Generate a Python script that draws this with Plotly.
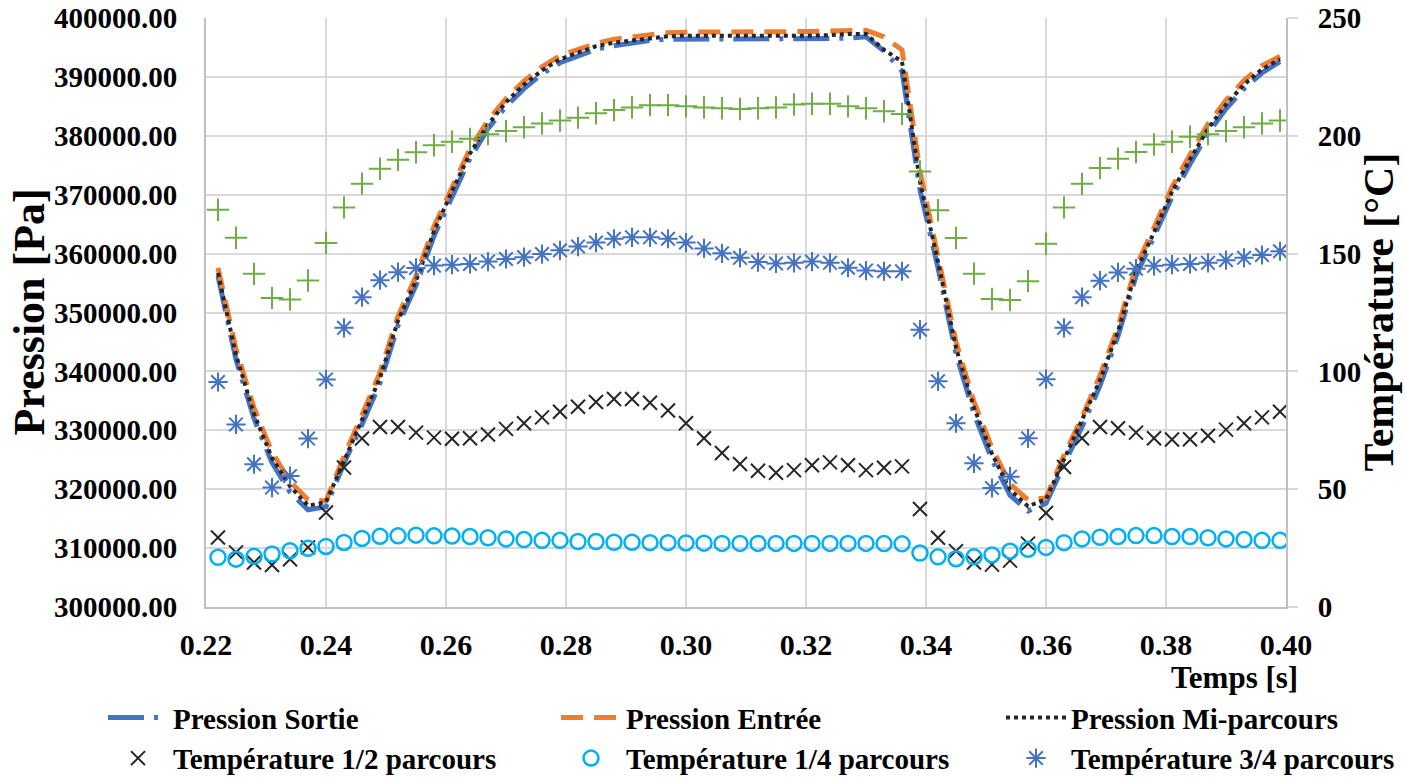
import plotly.graph_objects as go

# ---------------- data ----------------
temps = [0.222, 0.225, 0.228, 0.231, 0.234, 0.237, 0.240, 0.243, 0.246, 0.249,
         0.252, 0.255, 0.258, 0.261, 0.264, 0.267, 0.270, 0.273, 0.276, 0.279,
         0.282, 0.285, 0.288, 0.291, 0.294, 0.297, 0.300, 0.303, 0.306, 0.309,
         0.312, 0.315, 0.318, 0.321, 0.324, 0.327, 0.330, 0.333, 0.336, 0.339,
         0.342, 0.345, 0.348, 0.351, 0.354, 0.357, 0.360, 0.363, 0.366, 0.369,
         0.372, 0.375, 0.378, 0.381, 0.384, 0.387, 0.390, 0.393, 0.396, 0.399]

pression_sortie = [356200, 342000, 332000, 324500, 319500, 316500, 317000, 324400, 331000, 338000,
                   347800, 354600, 363000, 369800, 376200, 381200, 385000, 388000, 390500, 392400,
                   393600, 394700, 395300, 395800, 396200, 396400, 396400, 396400, 396300, 396300,
                   396300, 396400, 396400, 396500, 396500, 396600, 396800, 394400, 391000, 370800,
                   357600, 343000, 332800, 325000, 319000, 316300, 317600, 324200, 330600, 337600,
                   346000, 356200, 362800, 369600, 375200, 380400, 384600, 388000, 390700, 392600]

pression_entree = [357600, 343800, 333800, 326300, 321300, 318200, 318000, 325600, 332600, 339800,
                   349400, 356200, 364600, 371400, 377800, 382600, 386300, 389300, 391700, 393600,
                   394700, 395700, 396400, 396800, 397200, 397500, 397600, 397600, 397500, 397500,
                   397500, 397500, 397600, 397700, 397800, 397900, 397900, 396800, 394600, 374000,
                   359600, 345000, 334800, 327000, 320900, 318200, 318500, 325800, 332200, 339300,
                   347600, 357800, 364400, 371300, 376800, 382000, 386000, 389400, 391900, 393500]

pression_mi = [356700, 342800, 332800, 325300, 320500, 317200, 317800, 325000, 331800, 338900,
               348600, 355400, 363800, 370600, 377000, 381900, 385700, 388700, 391100, 393000,
               394150, 395200, 395800, 396200, 396600, 396900, 397000, 397000, 396900, 396900,
               396900, 396950, 397000, 397000, 397100, 397300, 397300, 394600, 392600, 372200,
               358600, 344000, 333800, 326000, 319900, 317100, 318300, 325000, 331400, 338500,
               346800, 357000, 363600, 370500, 376000, 381200, 385300, 388700, 391300, 393000]

temp_demi = [29.5, 23.2, 18.9, 17.8, 20.3, 25.3, 40.1, 59.2, 71.5, 76.4,
             76.4, 74.0, 71.9, 71.4, 71.6, 73.2, 75.6, 78.0, 80.5, 82.9,
             85.0, 87.0, 88.3, 88.3, 86.7, 83.4, 78.0, 71.6, 65.4, 60.7,
             57.8, 57.0, 58.1, 60.2, 61.4, 60.2, 58.1, 59.1, 59.7, 41.6,
             29.4, 23.7, 18.9, 18.0, 19.7, 26.9, 39.9, 59.4, 71.6, 76.4,
             75.9, 74.0, 71.6, 71.1, 71.2, 72.7, 75.3, 78.0, 80.5, 82.9]

temp_quart = [21.1, 20.3, 21.5, 22.5, 23.9, 24.9, 25.7, 27.4, 29.1, 30.0,
              30.2, 30.5, 30.2, 30.1, 29.9, 29.4, 28.9, 28.6, 28.3, 28.3,
              27.8, 27.8, 27.5, 27.5, 27.3, 27.3, 27.2, 27.1, 27.0, 27.0,
              27.0, 27.0, 27.0, 27.0, 27.0, 27.0, 27.0, 26.9, 26.8, 22.9,
              21.3, 20.5, 21.3, 22.1, 23.7, 24.5, 25.3, 27.3, 28.9, 29.6,
              29.9, 30.3, 30.3, 29.9, 29.9, 29.4, 28.9, 28.6, 28.3, 28.3]

temp_trois_quarts = [95.5, 77.5, 60.6, 50.7, 55.6, 71.5, 96.6, 118.5, 131.5, 138.7,
                     142.1, 143.9, 144.9, 145.3, 145.6, 146.6, 147.7, 148.5, 149.8, 151.4,
                     153.0, 154.7, 156.3, 156.9, 156.9, 156.3, 154.7, 152.2, 150.1, 148.2,
                     146.4, 145.8, 146.1, 146.6, 146.1, 144.0, 142.8, 142.5, 142.5, 117.7,
                     95.8, 78.0, 61.0, 50.5, 55.3, 71.6, 96.7, 118.5, 131.5, 138.5,
                     142.0, 143.6, 144.8, 145.3, 145.6, 146.1, 147.2, 148.2, 149.4, 151.0]

temp_plus = [168.6, 156.7, 141.4, 131.2, 130.5, 138.6, 154.5, 169.6, 179.7, 186.0,
             189.8, 193.0, 196.0, 197.5, 198.7, 200.7, 202.0, 203.6, 205.2, 206.5,
             207.7, 209.6, 210.9, 212.0, 213.0, 213.0, 212.5, 212.0, 211.7, 211.4,
             211.7, 212.0, 213.3, 213.6, 213.6, 212.5, 211.7, 210.4, 209.3, 184.9,
             168.4, 156.6, 141.5, 130.7, 130.3, 138.3, 154.2, 169.6, 179.6, 186.3,
             190.3, 193.1, 196.3, 197.5, 199.6, 200.7, 202.0, 203.6, 205.2, 206.5]

x_ticks = [0.22, 0.24, 0.26, 0.28, 0.30, 0.32, 0.34, 0.36, 0.38, 0.40]

# ---------------- styles ----------------
FONT = "Liberation Serif"
BLUE = "#4472C4"
ORANGE = "#ED7D31"
DARK = "#262626"
GREEN = "#70AD47"
CYAN = "#00B0F0"
GRID = "#D9D9D9"

fig = go.Figure()

fig.add_trace(go.Scatter(x=temps, y=pression_sortie, name="Pression Sortie", mode="lines",
                         line=dict(color=BLUE, width=5, dash="36px,10px,4px,10px"),
                         legend="legend"))
fig.add_trace(go.Scatter(x=temps, y=pression_entree, name="Pression Entrée", mode="lines",
                         line=dict(color=ORANGE, width=5, dash="22px,11px"),
                         legend="legend2"))
fig.add_trace(go.Scatter(x=temps, y=pression_mi, name="Pression Mi-parcours", mode="lines",
                         line=dict(color=DARK, width=4, dash="4px,4px"),
                         legend="legend3"))

fig.add_trace(go.Scatter(x=temps, y=temp_plus, name="Température", mode="markers",
                         marker=dict(symbol="cross-thin-open", size=16, color=GREEN,
                                     line=dict(color=GREEN, width=2)),
                         yaxis="y2", showlegend=False))
fig.add_trace(go.Scatter(x=temps, y=temp_demi, name="Température 1/2 parcours", mode="markers",
                         marker=dict(symbol="x-thin-open", size=14, color=DARK,
                                     line=dict(color=DARK, width=2)),
                         yaxis="y2", legend="legend"))
fig.add_trace(go.Scatter(x=temps, y=temp_quart, name="Température 1/4 parcours", mode="markers",
                         marker=dict(symbol="circle-open", size=15, color=CYAN,
                                     line=dict(color=CYAN, width=2.5)),
                         yaxis="y2", legend="legend2"))
fig.add_trace(go.Scatter(x=temps, y=temp_trois_quarts, name="Température 3/4 parcours", mode="markers",
                         marker=dict(symbol="asterisk-open", size=16, color=BLUE,
                                     line=dict(color=BLUE, width=2)),
                         yaxis="y2", legend="legend3"))

xtickfont = dict(family=FONT, size=30, color="black", weight="bold")
ytickfont = dict(family=FONT, size=29, color="black", weight="bold")
legfont = dict(family=FONT, size=29, color="black", weight="bold")

def leg(xpx):
    return dict(x=xpx / 1404, y=0.1116, xref="container", yref="container",
                xanchor="left", yanchor="top", orientation="v",
                font=legfont, bgcolor="rgba(0,0,0,0)", itemwidth=60,
                tracegroupgap=0)

fig.update_layout(
    width=1404, height=779,
    margin=dict(l=206, r=118, t=18, b=172, autoexpand=False),
    plot_bgcolor="white", paper_bgcolor="white",
    xaxis=dict(range=[0.22, 0.40], tickvals=x_ticks, tickformat=".2f",
               showgrid=True, gridcolor=GRID, gridwidth=2,
               showline=True, linecolor="#BFBFBF", linewidth=2,
               zeroline=False, ticks="", ticklabelstandoff=10, automargin=False,
               tickfont=xtickfont),
    yaxis=dict(range=[300000, 400000], dtick=10000, tickformat=".2f",
               showgrid=True, gridcolor=GRID, gridwidth=2,
               showline=True, linecolor="#BFBFBF", linewidth=2,
               zeroline=False, ticks="", ticklabelstandoff=21, automargin=False,
               tickfont=ytickfont),
    yaxis2=dict(range=[0, 250], dtick=50, overlaying="y", side="right",
                showgrid=False, zeroline=False, automargin=False,
                showline=True, linecolor="#BFBFBF", linewidth=2,
                ticks="outside", ticklen=10, tickwidth=2, tickcolor=GRID,
                ticklabelstandoff=14, tickfont=ytickfont),
    legend=leg(103),
    legend2=leg(556),
    legend3=leg(1001),
    annotations=[
        dict(text="Pression [Pa]", textangle=-90, x=(29 - 206) / 1080, y=0.5,
             xref="paper", yref="paper", xanchor="center", yanchor="middle",
             showarrow=False,
             font=dict(family=FONT, size=44, color="black", weight="bold")),
        dict(text="Température [°C]", textangle=-90, x=(1378 - 206) / 1080, y=0.5,
             xref="paper", yref="paper", xanchor="center", yanchor="middle",
             showarrow=False,
             font=dict(family=FONT, size=42, color="black", weight="bold")),
        dict(text="Temps [s]", x=(1234 - 206) / 1080, y=(607 - 677) / 589,
             xref="paper", yref="paper", xanchor="center", yanchor="middle",
             showarrow=False,
             font=dict(family=FONT, size=31, color="black", weight="bold")),
    ],
)

fig.write_html("out.html", config={"displayModeBar": False},
               post_script="document.body.style.margin='0px';")
